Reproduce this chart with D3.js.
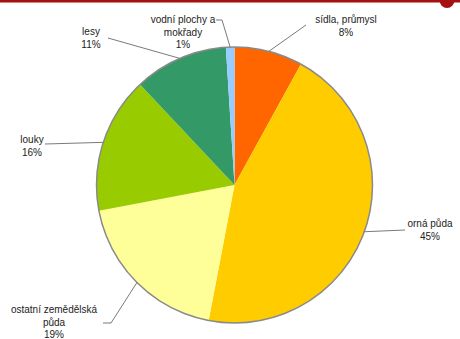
<!DOCTYPE html>
<html>
<head>
<meta charset="utf-8">
<script src="https://cdn.jsdelivr.net/npm/d3@7"></script>
<style>
  html, body { margin: 0; padding: 0; background: #fff; }
  svg { display: block; }
  text { font-family: "Liberation Sans", Arial, sans-serif; font-size: 10px; fill: #222; }
</style>
</head>
<body>
<svg id="chart" width="460" height="339"></svg>
<script>
// Land use shares (percent), clockwise from 12 o'clock
const categories = ["sídla, průmysl", "orná půda", "ostatní zemědělská půda", "louky", "lesy", "vodní plochy a mokřady"];
const values = [8, 45, 19, 16, 11, 1];
const colors = ["#FF6600", "#FFCC00", "#FFFF99", "#99CC00", "#339966", "#99CCFF"];

// Label text lines (as wrapped in the chart)
const labelLines = [
  ["sídla, průmysl"],
  ["orná půda"],
  ["ostatní zemědělská", "půda"],
  ["louky"],
  ["lesy"],
  ["vodní plochy a", "mokřady"]
];

// Label layout: text centre x, first baseline y, and leader-line path points after the slice edge
const labelLayout = [
  { x: 346, y: 23, leader: [[306, 25]] },
  { x: 430, y: 227, leader: [[405, 230]] },
  { x: 54, y: 313, leader: [[111, 323], [103, 323]] },
  { x: 32, y: 143, leader: [[45, 144]] },
  { x: 91, y: 35, leader: [[108, 38]] },
  { x: 183, y: 23, leader: [[222, 20], [216, 20]] }
];

const svg = d3.select("#chart");
const cx = 234.5, cy = 185, r = 138;

// Header rule and corner dot
svg.append("rect").attr("x", 0).attr("y", 0).attr("width", 460).attr("height", 2.5).attr("fill", "#A51010");
svg.append("circle").attr("cx", 447).attr("cy", 0.5).attr("r", 7.5).attr("fill", "#A51010");

const pie = d3.pie().sort(null).value(d => d)(values);
const arc = d3.arc().innerRadius(0).outerRadius(r);
const edgeArc = d3.arc().innerRadius(r).outerRadius(r);

const g = svg.append("g").attr("transform", `translate(${cx},${cy})`);

g.selectAll("path.slice")
  .data(pie)
  .join("path")
  .attr("class", "slice")
  .attr("d", arc)
  .attr("fill", (d, i) => colors[i]);

// Outline of the pie
g.append("circle").attr("r", r).attr("fill", "none").attr("stroke", "#8a8a8a").attr("stroke-width", 1.5);

// Leader lines from slice edge to labels
const line = d3.line();
pie.forEach((d, i) => {
  const c = edgeArc.centroid(d);
  const pts = [[c[0] + cx, c[1] + cy], ...labelLayout[i].leader];
  svg.append("path")
    .attr("d", line(pts))
    .attr("fill", "none")
    .attr("stroke", "#7a7a7a")
    .attr("stroke-width", 1);
});

// Labels: name lines then percentage
const lineH = 12.5;
pie.forEach((d, i) => {
  const L = labelLayout[i];
  const lines = [...labelLines[i], d3.format(".0f")(values[i]) + "%"];
  const t = svg.append("text").attr("text-anchor", "middle");
  lines.forEach((s, k) => {
    t.append("tspan").attr("x", L.x).attr("y", L.y + k * lineH).text(s);
  });
});
</script>
</body>
</html>
